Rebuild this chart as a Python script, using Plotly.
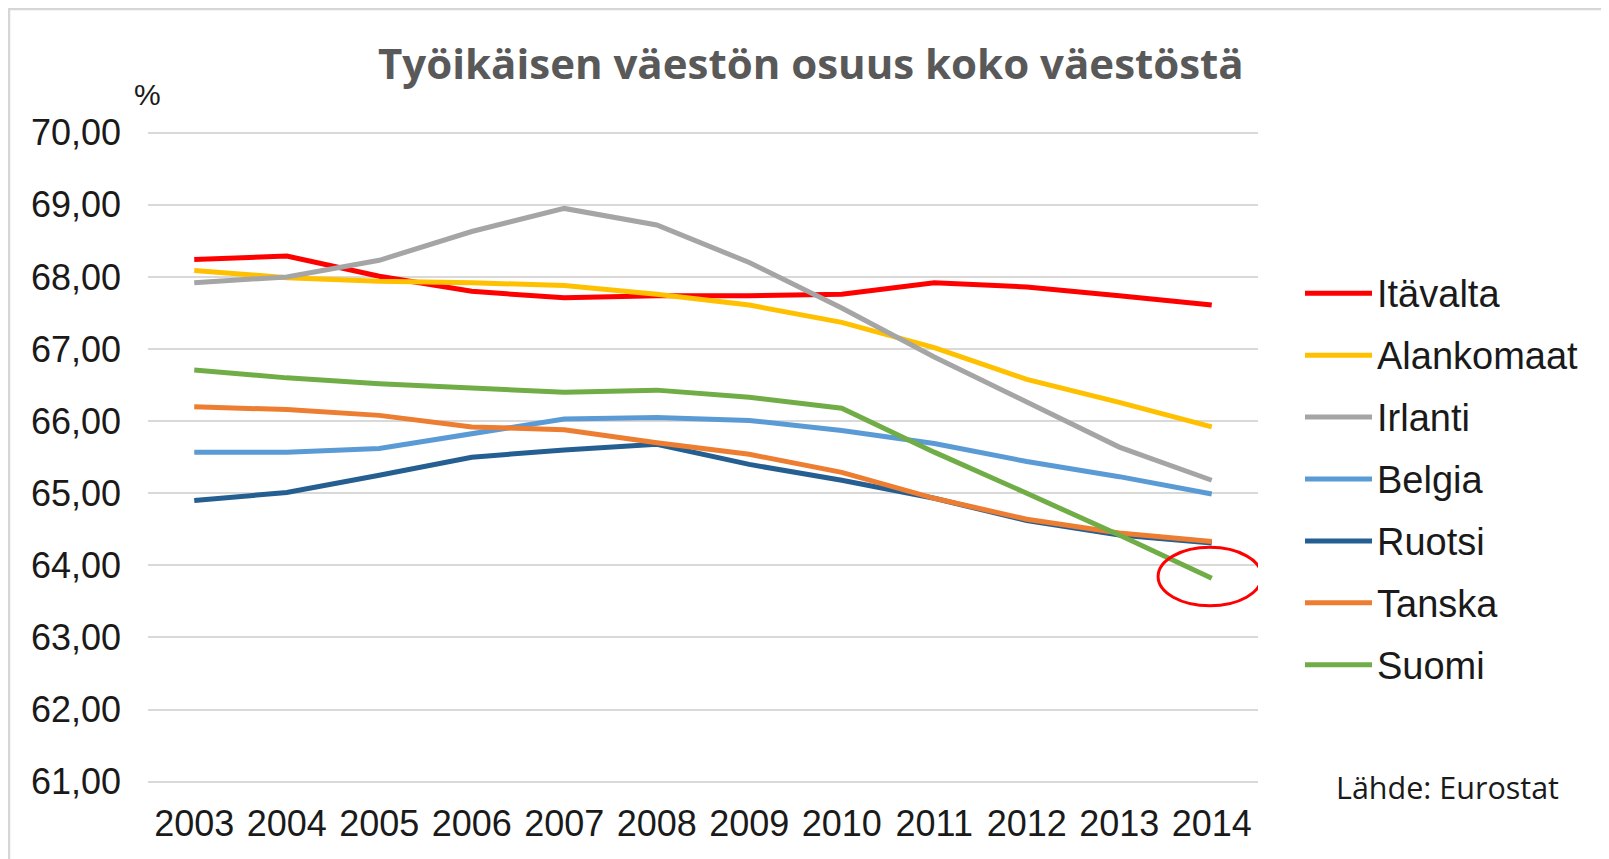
import plotly.graph_objects as go

# ---------------- data ----------------
years = ["2003", "2004", "2005", "2006", "2007", "2008", "2009", "2010", "2011", "2012", "2013", "2014"]

itavalta   = [68.24, 68.29, 68.01, 67.80, 67.71, 67.74, 67.74, 67.76, 67.92, 67.86, 67.74, 67.61]
alankomaat = [68.09, 67.99, 67.94, 67.92, 67.88, 67.76, 67.61, 67.37, 67.02, 66.58, 66.26, 65.92]
irlanti    = [67.92, 68.00, 68.23, 68.63, 68.95, 68.72, 68.20, 67.57, 66.89, 66.26, 65.64, 65.18]
belgia     = [65.57, 65.57, 65.62, 65.83, 66.03, 66.05, 66.01, 65.87, 65.69, 65.44, 65.23, 64.99]
ruotsi     = [64.90, 65.01, 65.25, 65.50, 65.60, 65.68, 65.40, 65.18, 64.93, 64.62, 64.42, 64.31]
tanska     = [66.20, 66.16, 66.08, 65.92, 65.88, 65.70, 65.54, 65.29, 64.93, 64.64, 64.45, 64.33]
suomi      = [66.71, 66.60, 66.52, 66.46, 66.40, 66.43, 66.33, 66.18, 65.57, 65.00, 64.42, 63.82]

series_names = ["Itävalta", "Alankomaat", "Irlanti", "Belgia", "Ruotsi", "Tanska", "Suomi"]
series_values = [itavalta, alankomaat, irlanti, belgia, ruotsi, tanska, suomi]
series_colors = ["#ff0000", "#ffc000", "#a5a5a5", "#5b9bd5", "#255e91", "#ed7d31", "#70ad47"]

y_ticks = [61, 62, 63, 64, 65, 66, 67, 68, 69, 70]

title_text = "Työikäisen väestön osuus koko väestöstä"
source_text = "Lähde: Eurostat"
unit_text = "%"

# ---------------- geometry (page pixels of the reference) ----------------
OFF = 8                      # browser body margin
W, H = 1609 - OFF, 859 - OFF
# plot area in page pixels
L, R, T, B = 148, 1258, 131, 783


def px(x):
    return (x - L) / (R - L)


def py(y):
    return (B - y) / (B - T)


fig = go.Figure()
for name, vals, col in zip(series_names, series_values, series_colors):
    fig.add_trace(go.Scatter(
        x=years, y=vals, name=name, mode="lines",
        line=dict(color=col, width=5),
        showlegend=False,
    ))

shapes = []
annotations = []

# card border (left / top edge)
shapes.append(dict(type="rect", xref="paper", yref="paper", layer="below",
                   x0=px(OFF + 1), x1=px(1700), y0=py(OFF + 1), y1=py(950),
                   fillcolor="white", line=dict(color="#d6d6d6", width=2.5)))

# red highlight ellipse around Suomi 2014
shapes.append(dict(type="circle", xref="x", yref="y", layer="above",
                   x0=10.42, x1=11.54, y0=63.44, y1=64.25,
                   line=dict(color="#ff0000", width=3)))

# legend
leg_y0 = 293.3
leg_step = 61.9
for i, (name, col) in enumerate(zip(series_names, series_colors)):
    yy = leg_y0 + i * leg_step
    shapes.append(dict(type="line", xref="paper", yref="paper",
                       x0=px(1305), x1=px(1372), y0=py(yy), y1=py(yy),
                       line=dict(color=col, width=5)))
    annotations.append(dict(text=name, xref="paper", yref="paper",
                            x=px(1375), y=py(yy + 1), xanchor="left", yanchor="middle",
                            showarrow=False,
                            font=dict(family="Liberation Sans, Arial", size=38, color="#1a1a1a")))

# title
annotations.append(dict(text="<b>" + title_text + "</b>", xref="paper", yref="paper",
                        x=px(811), y=py(63), xanchor="center", yanchor="middle",
                        showarrow=False,
                        font=dict(family="Open Sans", size=42, color="#595959")))
# unit label
annotations.append(dict(text=unit_text, xref="paper", yref="paper",
                        x=px(147), y=py(94), xanchor="center", yanchor="middle",
                        showarrow=False,
                        font=dict(family="Liberation Sans, Arial", size=30, color="#1a1a1a")))
# source
annotations.append(dict(text=source_text, xref="paper", yref="paper",
                        x=px(1447), y=py(787), xanchor="center", yanchor="middle",
                        showarrow=False,
                        font=dict(family="Open Sans", size=30.5, color="#1a1a1a")))

fig.update_layout(
    width=W, height=H,
    margin=dict(l=L - OFF, r=W - (R - OFF), t=T - OFF, b=H - (B - OFF), pad=0),
    paper_bgcolor="white",
    plot_bgcolor="white",
    separators=", ",
    shapes=shapes,
    annotations=annotations,
    showlegend=False,
    xaxis=dict(type="category", range=[-0.5, 11.5], showgrid=False, zeroline=False,
               showline=False, ticks="", ticklabelstandoff=16,
               tickfont=dict(family="Liberation Sans, Arial", size=36, color="#1a1a1a")),
    yaxis=dict(range=[70 - (B - 132.7) / 72.11, 70 + (132.7 - T) / 72.11],
               tickvals=y_ticks, tickformat=".2f",
               showgrid=True, gridcolor="#d9d9d9", gridwidth=1.5,
               zeroline=False, showline=False, ticks="", ticklabelstandoff=26,
               tickfont=dict(family="Liberation Sans, Arial", size=36, color="#1a1a1a")),
)

fig.write_html("out.html")
